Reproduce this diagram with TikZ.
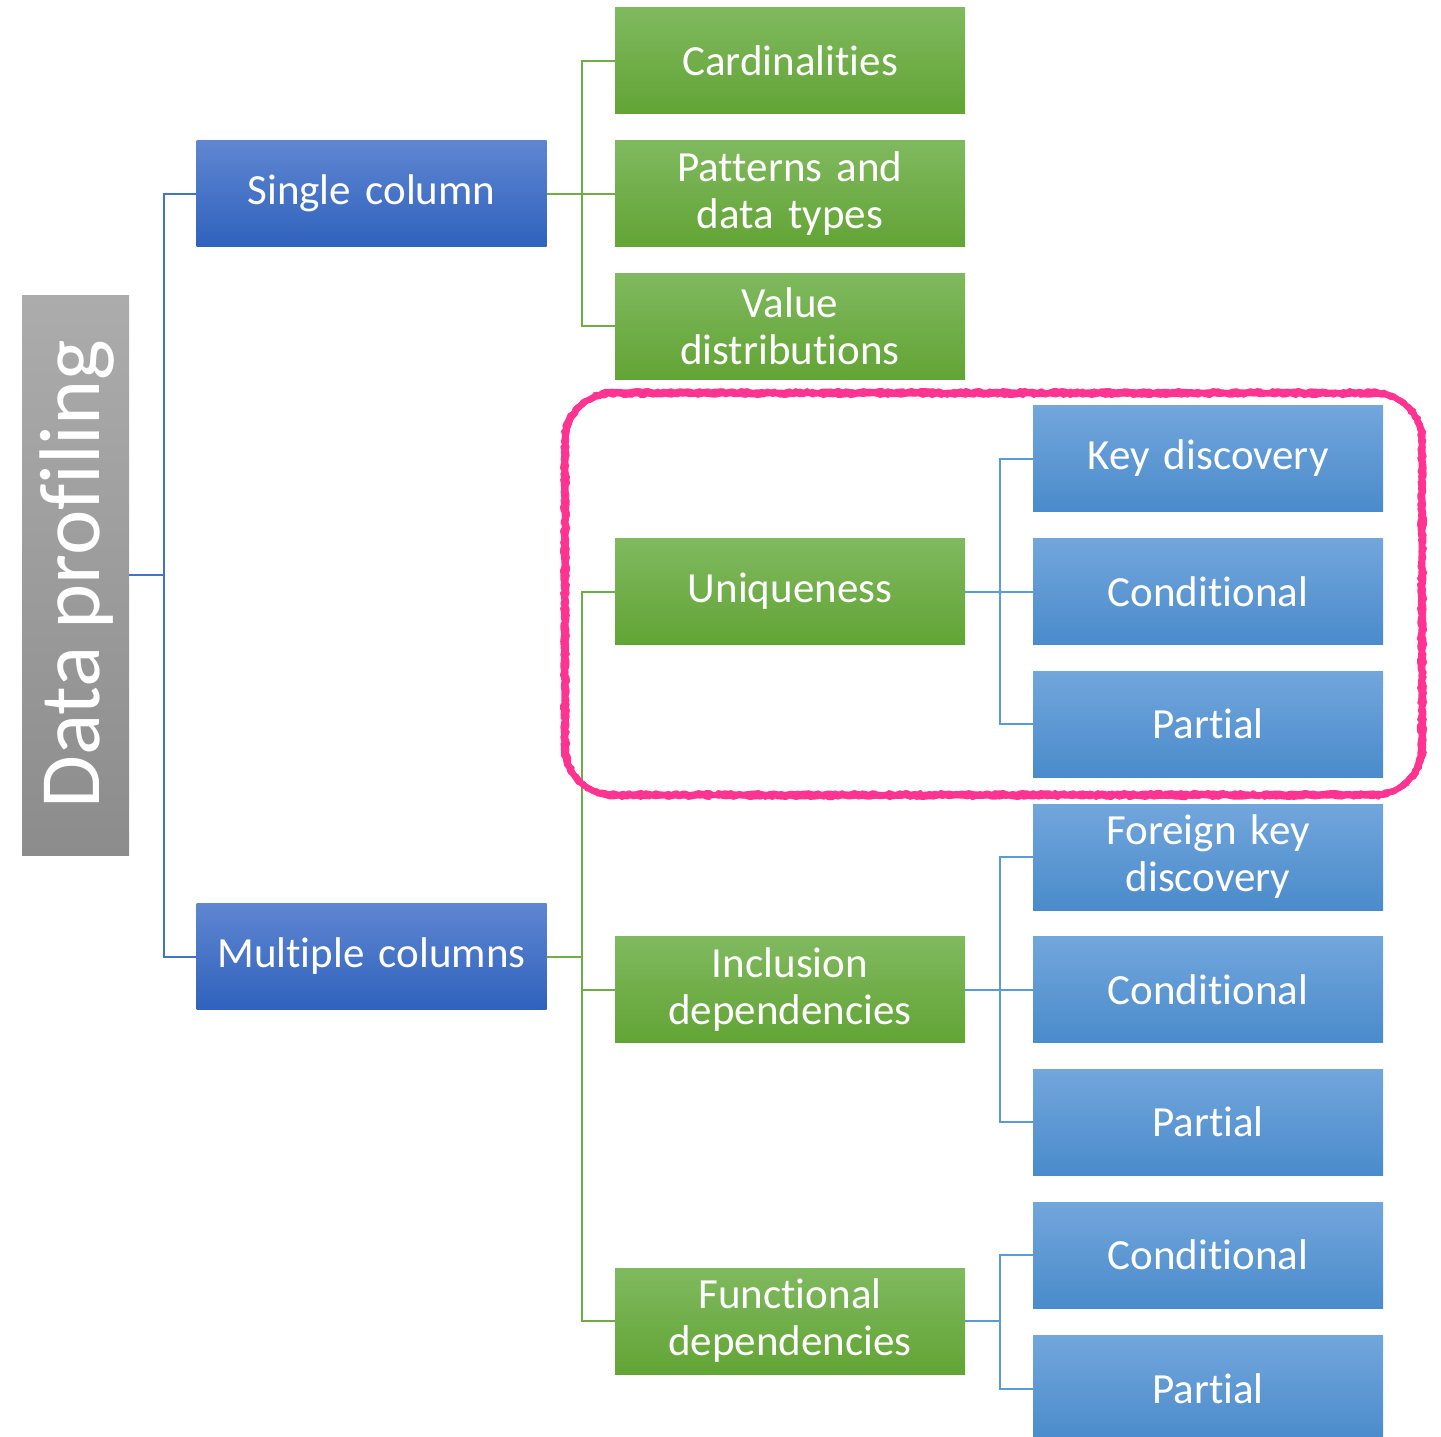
\documentclass[tikz,border=0pt]{standalone}
\usepackage{fontspec}
\setmainfont{Carlito}[RawFeature={-liga;-calt;-clig}, WordSpace=0.85]
\usetikzlibrary{decorations.pathmorphing}
\definecolor{gtop}{HTML}{ACACAC}
\definecolor{gbot}{HTML}{8C8C8C}
\definecolor{dbtop}{HTML}{5F86D1}
\definecolor{dbbot}{HTML}{2F62BD}
\definecolor{grtop}{HTML}{80B95F}
\definecolor{grbot}{HTML}{62A435}
\definecolor{lbtop}{HTML}{72A6DC}
\definecolor{lbbot}{HTML}{4A8BCB}
\definecolor{bline}{HTML}{4472C4}
\definecolor{gline}{HTML}{70AD47}
\definecolor{lline}{HTML}{5B9BD5}
\definecolor{pinkc}{HTML}{FF3390}
\newcommand\rrpath[5]{(#1+#5,#2) -- (#3-#5,#2) arc[start angle=-90,end angle=0,radius=#5] -- (#3,#4-#5) arc[start angle=0,end angle=90,radius=#5] -- (#1+#5,#4) arc[start angle=90,end angle=180,radius=#5] -- (#1,#2+#5) arc[start angle=180,end angle=270,radius=#5] -- cycle}
\tikzset{
  box/.style={minimum width=350pt, minimum height=106pt, inner sep=0pt,
    text=white, text width=345pt, align=center, font=\fontsize{43}{47}\selectfont},
  dbox/.style={box, top color=dbtop, bottom color=dbbot},
  grbox/.style={box, top color=grtop, bottom color=grbot},
  lbox/.style={box, top color=lbtop, bottom color=lbbot},
  bl/.style={draw=bline, line width=2pt},
  gl/.style={draw=gline, line width=2pt},
  ll/.style={draw=lline, line width=2pt},
  rough/.style={draw=pinkc, line width=2.2pt, line join=round, decorate, decoration={random steps, segment length=3pt, amplitude=1pt}},
}
\begin{document}
\begin{tikzpicture}[x=1pt,y=-1pt]
\useasboundingbox (0,0) rectangle (1441,1436);
% root
\node[minimum width=107pt, minimum height=560pt, inner sep=0pt, top color=gtop, bottom color=gbot] (dp) at (75.5,575) {};
\node[rotate=90, text=white, font=\fontsize{86}{94}\selectfont, inner sep=0pt] (dpt) at (77,574) {Data profiling};
% level 1
\node[dbox] (single) at (371.5,193.5) {Single column};
\node[dbox] (multi) at (371.5,956.5) {Multiple columns};
% level 2
\node[grbox] (card) at (790,60.5) {Cardinalities};
\node[grbox] (patt) at (790,193.5) {Patterns and\\data types};
\node[grbox] (valu) at (790,326) {Value\\distributions};
\node[grbox] (uniq) at (790,591.5) {Uniqueness};
\node[grbox] (incl) at (790,989.5) {Inclusion\\dependencies};
\node[grbox] (func) at (790,1321) {Functional\\dependencies};
% level 3
\node[lbox] (key) at (1208,458.5) {Key discovery};
\node[lbox] (cond1) at (1208,591.5) {Conditional};
\node[lbox] (part1) at (1208,724) {Partial};
\node[lbox] (fkey) at (1208,857) {Foreign key\\discovery};
\node[lbox] (cond2) at (1208,989.5) {Conditional};
\node[lbox] (part2) at (1208,1122) {Partial};
\node[lbox] (cond3) at (1208,1255) {Conditional};
\node[lbox] (part3) at (1208,1388.5) {Partial};
% connectors
\draw[bl] (dp.east) -- ++(35,0) coordinate (j1);
\draw[bl] (j1) |- (single.west);
\draw[bl] (j1) |- (multi.west);
\draw[gl] (single.east) -- ++(35,0) coordinate (j2);
\draw[gl] (j2) |- (card.west);
\draw[gl] (j2) |- (patt.west);
\draw[gl] (j2) |- (valu.west);
\draw[gl] (multi.east) -- ++(35,0) coordinate (j3);
\draw[gl] (j3) |- (uniq.west);
\draw[gl] (j3) |- (incl.west);
\draw[gl] (j3) |- (func.west);
\draw[ll] (uniq.east) -- ++(35,0) coordinate (j4);
\draw[ll] (j4) |- (key.west);
\draw[ll] (j4) |- (cond1.west);
\draw[ll] (j4) |- (part1.west);
\draw[ll] (incl.east) -- ++(35,0) coordinate (j5);
\draw[ll] (j5) |- (fkey.west);
\draw[ll] (j5) |- (cond2.west);
\draw[ll] (j5) |- (part2.west);
\draw[ll] (func.east) -- ++(35,0) coordinate (j6);
\draw[ll] (j6) |- (cond3.west);
\draw[ll] (j6) |- (part3.west);
% pink highlight
\pgfmathsetseed{11}
\draw[pinkc, line width=6pt] \rrpath{565}{393}{1422}{795}{48};
\path[rough] \rrpath{565}{390}{1422}{798}{50};
\path[rough] \rrpath{565}{396}{1422}{792}{46};
\path[rough] \rrpath{562}{393}{1425}{795}{48};
\path[rough] \rrpath{568}{393}{1419}{795}{48};
\end{tikzpicture}
\end{document}
